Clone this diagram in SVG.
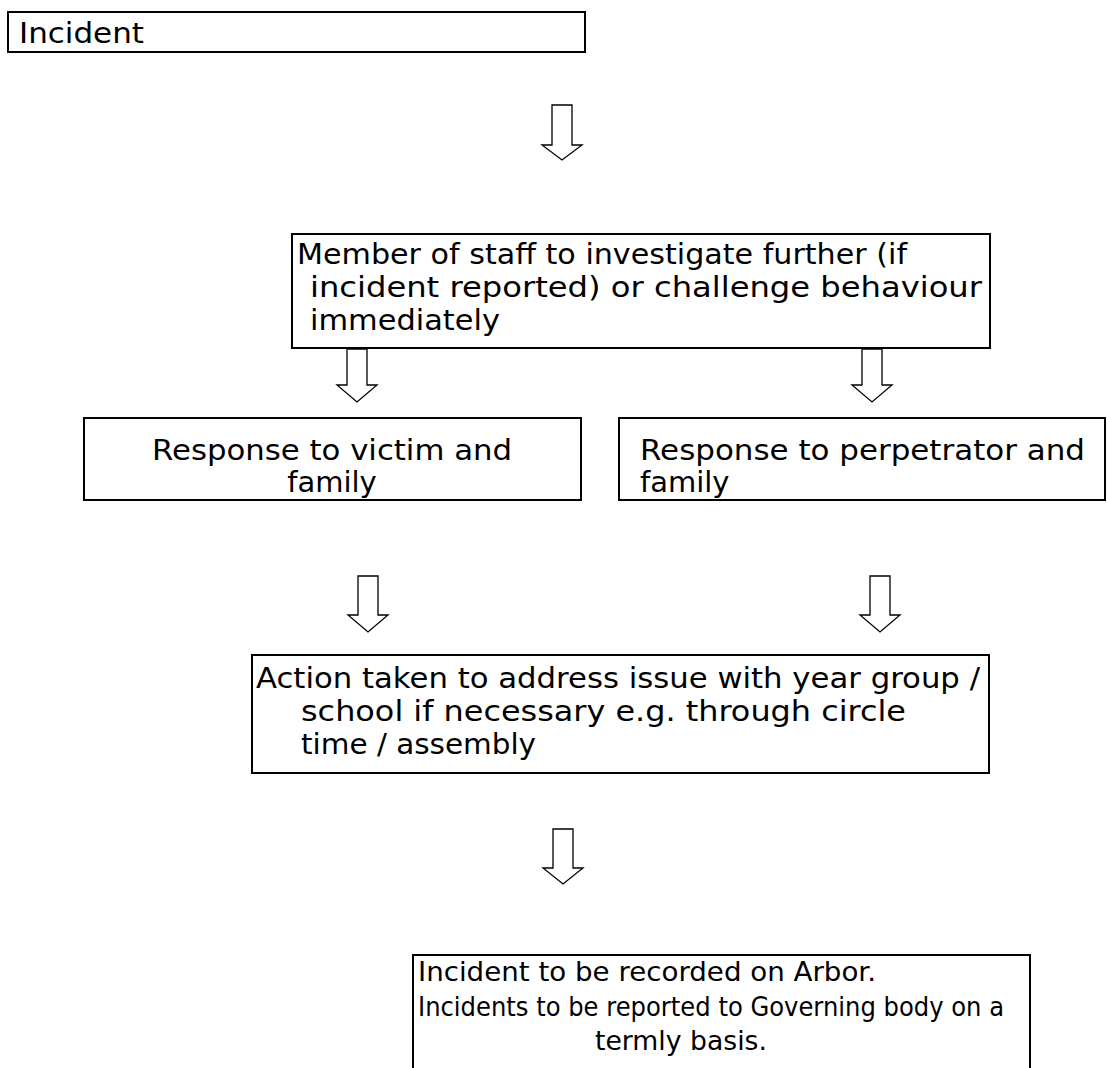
<svg xmlns="http://www.w3.org/2000/svg" width="1107" height="1068" viewBox="0 0 1107 1068">
<style>
.box{fill:#fff;stroke:#000;stroke-width:2}
.arr{fill:#fff;stroke:#000;stroke-width:1.3;stroke-linejoin:miter}
text{font-family:"DejaVu Sans","Liberation Sans",sans-serif;font-size:29px;fill:#000}
.sm{font-size:27px}
</style>
<rect width="1107" height="1068" fill="#fff"/>
<g id="incident">
<rect class="box" x="8" y="12" width="577" height="40"/>
<text x="19" y="43" textLength="125" lengthAdjust="spacingAndGlyphs">Incident</text>
</g>
<g id="staff">
<rect class="box" x="292" y="234" width="698" height="114"/>
<text x="297" y="264" textLength="610" lengthAdjust="spacingAndGlyphs">Member of staff to investigate further (if</text>
<text x="310" y="297" textLength="672" lengthAdjust="spacingAndGlyphs">incident reported) or challenge behaviour</text>
<text x="310" y="330" textLength="190" lengthAdjust="spacingAndGlyphs">immediately</text>
</g>
<g id="victim">
<rect class="box" x="84" y="418" width="497" height="82"/>
<text x="332" y="460" text-anchor="middle" textLength="360" lengthAdjust="spacingAndGlyphs">Response to victim and</text>
<text x="332" y="492" text-anchor="middle">family</text>
</g>
<g id="perpetrator">
<rect class="box" x="619" y="418" width="486" height="82"/>
<text x="640" y="460" textLength="445" lengthAdjust="spacingAndGlyphs">Response to perpetrator and</text>
<text x="640" y="492">family</text>
</g>
<g id="action">
<rect class="box" x="252" y="655" width="737" height="118"/>
<text x="256" y="688" textLength="724" lengthAdjust="spacingAndGlyphs">Action taken to address issue with year group /</text>
<text x="301" y="721" textLength="605" lengthAdjust="spacingAndGlyphs">school if necessary e.g. through circle</text>
<text x="301" y="754" textLength="235" lengthAdjust="spacingAndGlyphs">time / assembly</text>
</g>
<g id="record">
<rect class="box" x="413" y="955" width="617" height="140"/>
<text class="sm" x="418" y="981" textLength="458" lengthAdjust="spacingAndGlyphs">Incident to be recorded on Arbor.</text>
<text class="sm" x="418" y="1016" textLength="586" lengthAdjust="spacingAndGlyphs">Incidents to be reported to Governing body on a</text>
<text class="sm" x="595" y="1050" textLength="172" lengthAdjust="spacingAndGlyphs">termly basis.</text>
</g>
<g id="connectors">
<path class="arr" d="M552,105H572V145H582L562,160L542,145H552Z"/>
<path class="arr" d="M347,349H367V385H377L357,402L337,385H347Z"/>
<path class="arr" d="M862,349H882V385H892L872,402L852,385H862Z"/>
<path class="arr" d="M358,576H378V615H388L368,632L348,615H358Z"/>
<path class="arr" d="M870,576H890V615H900L880,632L860,615H870Z"/>
<path class="arr" d="M553,829H573V868H583L563,884L543,868H553Z"/>
</g>
</svg>
